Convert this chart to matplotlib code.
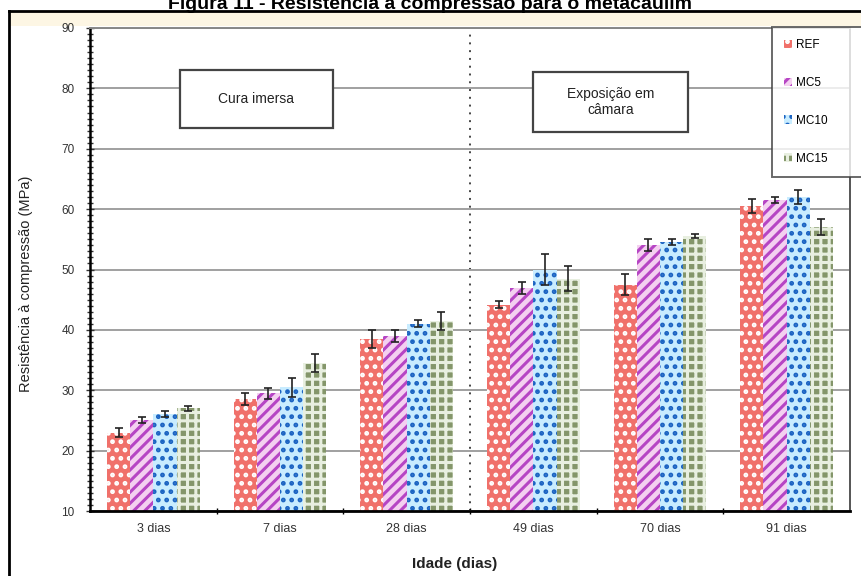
import numpy as np
import matplotlib.pyplot as plt
import matplotlib as mpl
from matplotlib.patches import Rectangle
from matplotlib.lines import Line2D
from matplotlib.ticker import MultipleLocator, FixedLocator

plt.rcParams['font.family'] = ['Liberation Sans', 'DejaVu Sans']
plt.rcParams['hatch.linewidth'] = 2.2

# --- data ---
idades = ["3 dias", "7 dias", "28 dias", "49 dias", "70 dias", "91 dias"]
series = ["REF", "MC5", "MC10", "MC15"]
ref = [23.0, 28.5, 38.5, 44.2, 47.5, 60.5]
mc5 = [25.0, 29.5, 39.0, 47.0, 54.0, 61.5]
mc10 = [26.0, 30.5, 41.0, 50.0, 54.5, 62.0]
mc15 = [27.0, 34.5, 41.5, 48.5, 55.5, 57.0]
ref_err = [0.8, 1.0, 1.5, 0.6, 1.7, 1.2]
mc5_err = [0.5, 0.9, 1.0, 1.0, 1.0, 0.5]
mc10_err = [0.5, 1.6, 0.6, 2.5, 0.5, 1.2]
mc15_err = [0.4, 1.5, 1.5, 2.0, 0.3, 1.3]

values = [ref, mc5, mc10, mc15]
errors = [ref_err, mc5_err, mc10_err, mc15_err]

# fill / hatch style per series
faces = ['#f0706a', '#f4d0f0', '#c8ecff', '#84966a']
hatch_cols = ['white', '#b645c4', '#1b63c2', '#e8efe0']
hatches = ['..', '///', '..', '++']

fig = plt.figure(figsize=(8.61, 5.76), dpi=100)
W, H = 861, 576

# outer frame and title (cut off at top, as in the scan)
fig.text(0.5, 1 - 9 / H, "Figura 11 - Resistência à compressão para o metacaulim",
         ha='center', va='baseline', fontsize=14, fontweight='bold')
fig.add_artist(Rectangle((9 / W, 1 - 26 / H), 1, 14 / H, transform=fig.transFigure,
                         facecolor='#fdf6e4', edgecolor='none', zorder=0))
fig.add_artist(Line2D([9 / W, 9 / W], [0, 1 - 11 / H], transform=fig.transFigure,
                      color='black', lw=2))
fig.add_artist(Line2D([9 / W, 1], [1 - 11 / H, 1 - 11 / H], transform=fig.transFigure,
                      color='black', lw=2))

ax = fig.add_axes([90 / W, 1 - 511 / H, 760 / W, 483 / H])
ax.set_facecolor('white')

x = np.arange(len(idades))
bw = 0.183
for i, s in enumerate(series):
    pos = x + (i - 1.5) * bw
    ax.bar(pos, np.array(values[i]) - 10, bw, bottom=10, color=faces[i],
           edgecolor=hatch_cols[i], hatch=hatches[i], linewidth=0, label=s, zorder=2)
    ax.errorbar(pos, values[i], yerr=errors[i], fmt='none', ecolor='#222222',
                elinewidth=1.2, capsize=3, capthick=1.2, zorder=3)

ax.set_xlim(-0.5, len(idades) - 0.5)
ax.set_ylim(10, 90)
ax.yaxis.set_major_locator(MultipleLocator(10))
ax.yaxis.set_minor_locator(MultipleLocator(1))
ax.grid(axis='y', color='#a0a0a0', lw=1.4, zorder=1)
ax.tick_params(axis='y', which='both', direction='inout', length=4, width=1,
               labelsize=8.5, colors='#333333')
ax.tick_params(axis='y', which='major', length=6, pad=8)

ax.xaxis.set_major_locator(FixedLocator(np.arange(0.5, len(idades) - 0.5, 1)))
ax.xaxis.set_minor_locator(FixedLocator(x))
ax.set_xticklabels([], minor=False)
ax.set_xticklabels(idades, minor=True)
ax.tick_params(axis='x', which='major', direction='inout', length=5, width=1)
ax.tick_params(axis='x', which='minor', length=0, labelsize=9, pad=9, colors='#333333')

for side in ['top', 'right']:
    ax.spines[side].set_color('#888888')
    ax.spines[side].set_linewidth(1.4)
ax.spines['left'].set_linewidth(1.8)
ax.spines['bottom'].set_linewidth(2)
ax.spines['right'].set_color('#555555')

# separation between curing regimes
ax.axvline(2.5, color='#444444', lw=1.4, ls=(0, (1, 3)), zorder=1)

ax.set_ylabel("Resistência à compressão (MPa)", fontsize=10.5, color='#222222')
ax.yaxis.set_label_coords(-57 / 760, 0.47)
ax.set_xlabel("Idade (dias)", fontsize=11, fontweight='bold', color='#222222')
ax.xaxis.set_label_coords(0.48, -46 / 483)

# annotation boxes
for (x0, y0, w, h), txt in [((180, 70, 153, 58), "Cura imersa"),
                             ((533, 72, 155, 60), "Exposição em\ncâmara")]:
    fig.add_artist(Rectangle((x0 / W, 1 - (y0 + h) / H), w / W, h / H,
                             transform=fig.transFigure, facecolor='white',
                             edgecolor='#444444', lw=1.6, zorder=5))
    fig.text((x0 + w / 2) / W, 1 - (y0 + h / 2) / H, txt, ha='center', va='center',
             fontsize=10, color='#222222', zorder=6, linespacing=1.1)

leg = fig.legend(loc='upper left', bbox_to_anchor=(772 / W, 1 - 27 / H, 120 / W, 0),
                 mode='expand', fontsize=8.5, frameon=True, fancybox=False,
                 edgecolor='#444444', handlelength=0.7, handleheight=0.7,
                 handletextpad=0.3, labelspacing=2.2, borderpad=1.0, borderaxespad=0)
leg.get_frame().set_linewidth(1.4)

fig.savefig("out.png", dpi=100)
